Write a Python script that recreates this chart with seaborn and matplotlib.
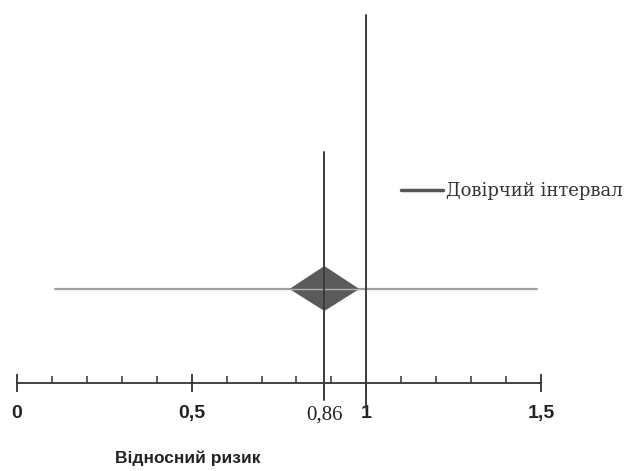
import matplotlib
matplotlib.use("Agg")
import matplotlib.pyplot as plt
import seaborn as sns
import pandas as pd
from matplotlib.lines import Line2D
from matplotlib.ticker import FixedLocator

sns.set_style("white")
plt.rcParams['font.family'] = ['Liberation Sans', 'DejaVu Sans']

# data
ci_low, ci_high = 0.11, 1.49
estimate_pos = 0.88          # visual position of point estimate
estimate_label = "0,86"
diamond_low, diamond_high = 0.78, 0.98
major_ticks = [0, 0.5, 1, 1.5]
major_labels = ["0", "0,5", "1", "1,5"]
minor_ticks = [0.1, 0.2, 0.3, 0.4, 0.6, 0.7, 0.8, 0.9, 1.1, 1.2, 1.3, 1.4]
legend_label = "Довірчий інтервал"
xlabel = "Відносний ризик"

fig = plt.figure(figsize=(6.38, 4.71), dpi=100)
ax = fig.add_axes([0, 0, 1, 1])
px = 1 / 349.3
ax.set_xlim(-17 * px, 621 * px)
ax.set_ylim(471, 0)

row_y = 289
axis_y = 383

df = pd.DataFrame({"x": [ci_low, ci_high], "y": [row_y, row_y]})
sns.lineplot(data=df, x="x", y="y", ax=ax, color="#a0a0a0", lw=1.6,
             estimator=None, sort=False, legend=False)

# diamond
ax.fill([diamond_low, estimate_pos, diamond_high, estimate_pos],
        [row_y, row_y - 23, row_y, row_y + 22], color="#5a5a5a", zorder=3, lw=0)
ax.plot([diamond_low, diamond_high], [row_y, row_y], color="#b0b0b0", lw=1, zorder=4)

# vertical lines
ax.plot([1, 1], [15, 408], color="#3c3c3c", lw=1.4, zorder=5)
ax.plot([estimate_pos, estimate_pos], [152, 400], color="#3c3c3c", lw=1.4, zorder=5)

# axis
for s in ["top", "left", "right"]:
    ax.spines[s].set_visible(False)
ax.spines["bottom"].set_position(("data", axis_y))
ax.spines["bottom"].set_bounds(0, 1.5)
ax.spines["bottom"].set_color("#333333")
ax.spines["bottom"].set_linewidth(1.3)
ax.xaxis.set_major_locator(FixedLocator(major_ticks))
ax.set_xticklabels(major_labels, fontsize=14, fontweight="bold", color="#222222")
ax.xaxis.set_minor_locator(FixedLocator(minor_ticks))
ax.tick_params(axis="x", which="major", direction="inout", length=13, width=1.3,
               color="#333333", pad=9, bottom=True)
ax.tick_params(axis="x", which="minor", direction="in", length=5, width=1.1,
               color="#333333", bottom=True)
ax.set_yticks([])
ax.set_xlabel("")
ax.set_ylabel("")

ax.text(estimate_pos, 415, estimate_label, ha="center", va="center",
        fontsize=15, family="Liberation Serif", color="#222222")
ax.text(0.49, 458, xlabel, ha="center", va="center", fontsize=12.5,
        fontweight="bold", color="#222222")

h = Line2D([0], [0], color="#555555", lw=2.5)
leg = ax.legend([h], [legend_label], loc="center left",
                bbox_to_anchor=(385 / 638, 1 - 191 / 471), frameon=False,
                handlelength=2.3, handletextpad=0.2,
                prop={"family": "DejaVu Serif", "size": 13})
for t in leg.get_texts():
    t.set_color("#333333")

fig.savefig("out.png", dpi=100)
